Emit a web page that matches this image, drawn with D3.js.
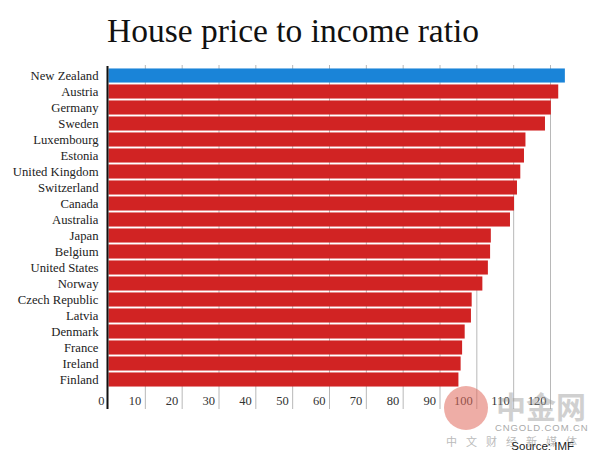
<!DOCTYPE html>
<html><head><meta charset="utf-8">
<script src="https://cdn.jsdelivr.net/npm/d3@7"></script>
<style>body{margin:0;background:#fff}svg{display:block}</style>
</head><body>
<script>
const countries = ["New Zealand","Austria","Germany","Sweden","Luxembourg","Estonia","United Kingdom","Switzerland","Canada","Australia","Japan","Belgium","United States","Norway","Czech Republic","Latvia","Denmark","France","Ireland","Finland"];
const values = [123.9,122.1,120.1,118.5,113.2,112.8,111.8,110.9,110.1,109.0,103.8,103.6,103.0,101.5,98.6,98.4,96.7,96.0,95.6,95.0];
const ticks = [0,10,20,30,40,50,60,70,80,90,100,110,120];
const highlight = "New Zealand";

const W=600,H=458;
const svg=d3.select("body").append("svg").attr("width",W).attr("height",H);
const x=d3.scaleLinear().domain([0,120]).range([108.5,550.5]);
const y=d3.scaleBand().domain(countries).range([67.5,387.5]).paddingInner(0.12).paddingOuter(0.06);

svg.append("text").attr("x",107).attr("y",42).attr("font-family","Liberation Serif, serif")
  .attr("font-size",33.5).attr("fill","#111").text("House price to income ratio");

// gridlines
const g=svg.append("g");
g.selectAll("line.grid").data(ticks.slice(1)).join("line")
  .attr("x1",d=>x(d)).attr("x2",d=>x(d)).attr("y1",65).attr("y2",409)
  .attr("stroke","#b8b8b8").attr("stroke-width",1);

// bars
svg.selectAll("rect.bar").data(countries).join("rect")
  .attr("x",x(0)).attr("y",d=>y(d)).attr("height",y.bandwidth())
  .attr("width",(d,i)=>x(values[i])-x(0))
  .attr("fill",d=>d===highlight?"#1a84d8":"#d12323");

// axis line
svg.append("line").attr("x1",107.5).attr("x2",107.5).attr("y1",66).attr("y2",409)
  .attr("stroke","#111").attr("stroke-width",2);

// category labels
svg.selectAll("text.cat").data(countries).join("text")
  .attr("x",98.5).attr("y",d=>y(d)+y.bandwidth()/2+4)
  .attr("text-anchor","end").attr("font-family","Liberation Serif, serif")
  .attr("font-size",12.7).attr("fill","#222").text(d=>d);

// tick labels
svg.selectAll("text.tick").data(ticks).join("text")
  .attr("x",d=>x(d)-4).attr("y",405)
  .attr("text-anchor","end").attr("font-family","Liberation Serif, serif")
  .attr("font-size",12.5).attr("fill","#333").text(d=>d);

// watermark
svg.append("circle").attr("cx",466).attr("cy",408).attr("r",22).attr("fill","#e06a5c").attr("opacity",0.55);
svg.append("text").attr("x",496).attr("y",418).attr("font-family","Noto Sans CJK SC, sans-serif")
  .attr("font-size",30).attr("font-weight","bold").attr("fill","#999").attr("opacity",0.45).text("中金网");
svg.append("text").attr("x",495).attr("y",431).attr("font-family","Liberation Sans, sans-serif")
  .attr("font-size",9.5).attr("fill","#aaa").attr("letter-spacing",0.9).text("CNGOLD.COM.CN");
svg.append("text").attr("x",446).attr("y",446).attr("font-family","Noto Sans CJK SC, sans-serif")
  .attr("font-size",11).attr("fill","#bbb").attr("letter-spacing",9).text("中文财经新媒体");

svg.append("text").attr("x",574).attr("y",450).attr("text-anchor","end")
  .attr("font-family","Liberation Sans, Arial, sans-serif").attr("font-size",11.5).attr("fill","#222").text("Source: IMF");
</script>
</body></html>
